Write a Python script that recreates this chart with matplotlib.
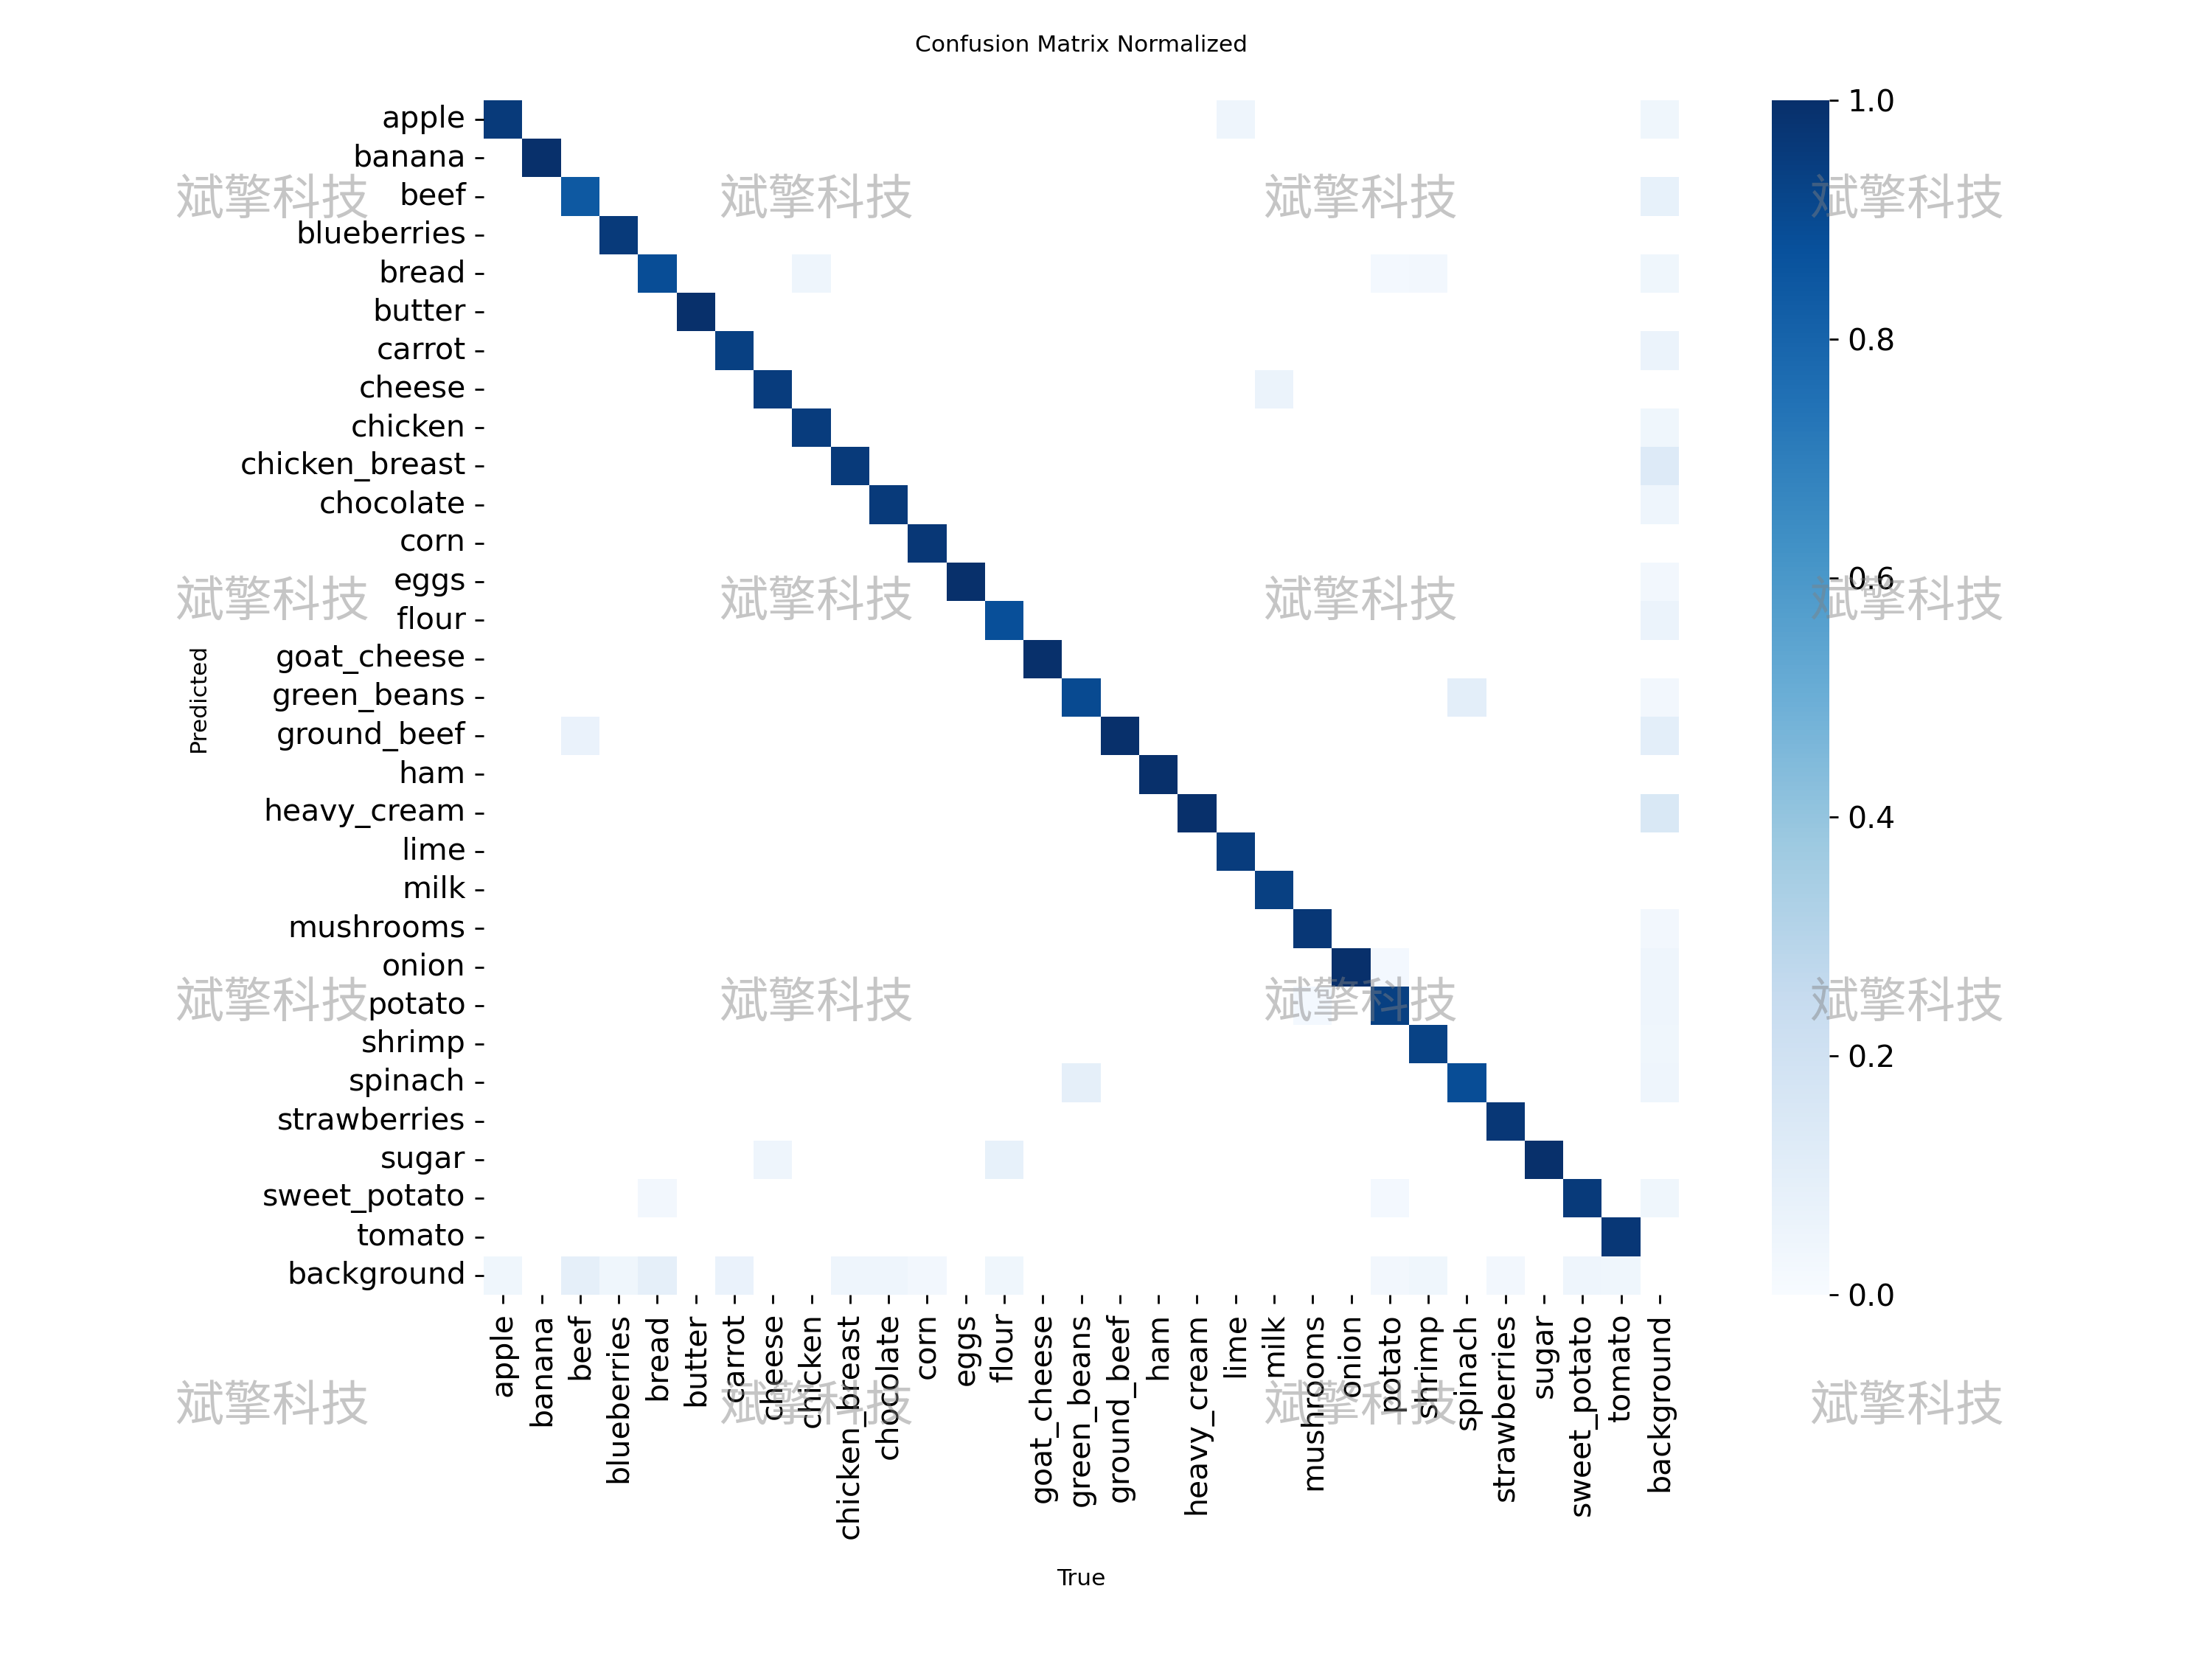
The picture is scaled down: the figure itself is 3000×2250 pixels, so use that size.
"""
Confusion Matrix Normalized — food detection (31 classes incl. background)
"""
import matplotlib
matplotlib.use('Agg')
import matplotlib.pyplot as plt
import numpy as np
import seaborn as sns

plt.rcParams['font.family'] = ['DejaVu Sans', 'Noto Sans CJK SC']

# class names (rows = Predicted, cols = True)
names = ['apple', 'banana', 'beef', 'blueberries', 'bread', 'butter', 'carrot',
         'cheese', 'chicken', 'chicken_breast', 'chocolate', 'corn', 'eggs',
         'flour', 'goat_cheese', 'green_beans', 'ground_beef', 'ham',
         'heavy_cream', 'lime', 'milk', 'mushrooms', 'onion', 'potato',
         'shrimp', 'spinach', 'strawberries', 'sugar', 'sweet_potato',
         'tomato', 'background']

# diagonal (correct) fractions per class
diag = [0.96, 1.00, 0.84, 0.96, 0.89, 1.00, 0.94, 0.95, 0.95, 0.96,
        0.96, 0.97, 1.00, 0.88, 1.00, 0.90, 1.00, 1.00, 1.00, 0.95,
        0.94, 0.97, 1.00, 0.94, 0.93, 0.89, 0.97, 1.00, 0.96, 0.97]

# last column: predicted class when true is background
bg_col = [0.04, 0, 0.08, 0, 0.04, 0, 0.06, 0, 0.04, 0.13,
          0.05, 0, 0.03, 0.06, 0, 0.03, 0.10, 0, 0.15, 0,
          0, 0.03, 0.05, 0.05, 0.04, 0.05, 0, 0, 0.04, 0]

# last row: object missed (predicted background)
bg_row = [0.04, 0, 0.09, 0.04, 0.09, 0, 0.07, 0, 0, 0.05,
          0.05, 0.03, 0, 0.04, 0, 0, 0, 0, 0, 0,
          0, 0, 0, 0.03, 0.04, 0, 0.03, 0, 0.05, 0.04]

# other confusions: (predicted, true, value)
confusions = [
    ('apple', 'lime', 0.05),
    ('bread', 'chicken', 0.05),
    ('bread', 'potato', 0.02),
    ('bread', 'shrimp', 0.03),
    ('cheese', 'milk', 0.06),
    ('green_beans', 'spinach', 0.10),
    ('ground_beef', 'beef', 0.07),
    ('onion', 'potato', 0.02),
    ('potato', 'mushrooms', 0.02),
    ('spinach', 'green_beans', 0.09),
    ('sugar', 'cheese', 0.05),
    ('sugar', 'flour', 0.08),
    ('sweet_potato', 'bread', 0.03),
    ('sweet_potato', 'potato', 0.02),
]

n = len(names)
mat = np.zeros((n, n))
for i, v in enumerate(diag):
    mat[i, i] = v
mat[:n - 1, n - 1] = bg_col
mat[n - 1, :n - 1] = bg_row
for p, t, v in confusions:
    mat[names.index(p), names.index(t)] = v
mat[mat < 0.005] = np.nan

fig = plt.figure(figsize=(12, 9))
ax = fig.add_axes([0.2187, 0.2196, 0.5403, 0.72])
cax = fig.add_axes([0.801, 0.2196, 0.026, 0.72])

sns.heatmap(mat, ax=ax, cbar_ax=cax, cmap='Blues', vmin=0.0, vmax=1.0,
            square=False, xticklabels=names, yticklabels=names)
ax.set_facecolor((1, 1, 1))

ax.tick_params(axis='both', labelsize=11.8, length=3.5, width=0.8)
ax.set_xticklabels(names, rotation=90)
ax.set_yticklabels(names, rotation=0)
cax.tick_params(labelsize=11.8, length=3.5, width=0.8)
cax.set_yticks([0.0, 0.2, 0.4, 0.6, 0.8, 1.0])

ax.set_xlabel('True', fontsize=9)
ax.set_ylabel('Predicted', fontsize=9)
ax.xaxis.set_label_coords(0.5, -0.229)
ax.yaxis.set_label_coords(-0.2295, 0.5)
ax.set_title('Confusion Matrix Normalized', fontsize=9, pad=19)

# watermark grid
for xf in [0.123, 0.369, 0.615, 0.862]:
    for yf in [0.879, 0.637, 0.395, 0.152]:
        fig.text(xf, yf, '斌擎科技', fontsize=19, color='gray', alpha=0.45,
                 ha='center', va='center', family=['Noto Sans CJK SC'],
                 zorder=10)

plt.savefig('out.png', dpi=250, facecolor='white')
plt.close()
